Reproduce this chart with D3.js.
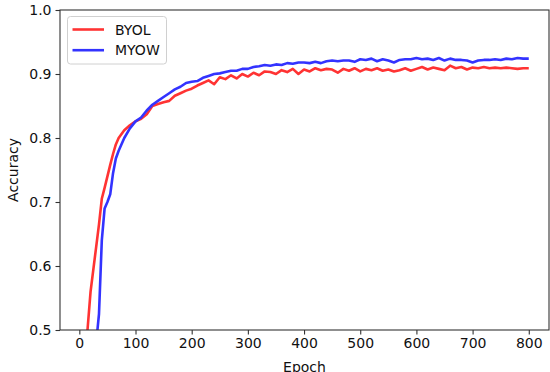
<!DOCTYPE html>
<html lang="en">
<head>
<meta charset="utf-8">
<title>BYOL vs MYOW</title>
<script src="https://d3js.org/d3.v7.js"></script>
<style>
  body { margin: 0; background: #fff; }
  text { font-family: "DejaVu Sans", sans-serif; }
</style>
</head>
<body>
<script>
const w = 550;
const h = 372;
const margin = {top: 10, right: 1, bottom: 42, left: 60};

const epochs = [10, 20, 30, 35, 40, 45, 50, 55, 60, 65, 70, 80, 90, 100, 110, 120, 130, 140, 150, 160,
  170, 180, 190, 200, 210, 220, 230, 240, 250, 260, 270, 280, 290, 300, 310, 320, 330, 340, 350, 360,
  370, 380, 390, 400, 410, 420, 430, 440, 450, 460, 470, 480, 490, 500, 510, 520, 530, 540, 550, 560,
  570, 580, 590, 600, 610, 620, 630, 640, 650, 660, 670, 680, 690, 700, 710, 720, 730, 740, 750, 760,
  770, 780, 790, 800];

const byol = [0.45, 0.56, 0.63, 0.665, 0.705, 0.722, 0.74, 0.758, 0.775, 0.79, 0.80, 0.812, 0.82, 0.826, 0.83, 0.837, 0.85, 0.853, 0.856, 0.858,
  0.866, 0.87, 0.874, 0.877, 0.882, 0.886, 0.89, 0.884, 0.895, 0.892, 0.898, 0.893, 0.90, 0.896, 0.902, 0.898, 0.904, 0.903, 0.90, 0.906,
  0.903, 0.908, 0.90, 0.907, 0.904, 0.909, 0.906, 0.908, 0.907, 0.902, 0.908, 0.905, 0.909, 0.904, 0.908, 0.906, 0.909, 0.905, 0.907, 0.904,
  0.906, 0.909, 0.905, 0.908, 0.911, 0.907, 0.91, 0.908, 0.906, 0.913, 0.909, 0.911, 0.907, 0.91, 0.909, 0.911, 0.909, 0.91, 0.909, 0.91,
  0.909, 0.908, 0.909, 0.909];

const myow = [0.30, 0.38, 0.48, 0.525, 0.64, 0.69, 0.70, 0.712, 0.745, 0.768, 0.78, 0.80, 0.815, 0.826, 0.832, 0.843, 0.852, 0.858, 0.864, 0.87,
  0.876, 0.88, 0.886, 0.888, 0.889, 0.894, 0.897, 0.90, 0.901, 0.903, 0.905, 0.905, 0.908, 0.908, 0.911, 0.912, 0.914, 0.913, 0.915, 0.914,
  0.917, 0.916, 0.918, 0.918, 0.917, 0.919, 0.917, 0.92, 0.921, 0.92, 0.921, 0.921, 0.919, 0.923, 0.922, 0.924, 0.92, 0.923, 0.921, 0.918,
  0.922, 0.923, 0.923, 0.925, 0.923, 0.924, 0.922, 0.925, 0.921, 0.924, 0.922, 0.922, 0.921, 0.918, 0.921, 0.922, 0.922, 0.923, 0.922, 0.924,
  0.923, 0.925, 0.924, 0.924];

const xTicks = [0, 100, 200, 300, 400, 500, 600, 700, 800];
const yTicks = [0.5, 0.6, 0.7, 0.8, 0.9, 1.0];

const series = [
  {name: "BYOL", values: byol, color: "#ff3333"},
  {name: "MYOW", values: myow, color: "#3333ff"}
];

const svg = d3.select("body").append("svg")
  .attr("width", w)
  .attr("height", h);

const xScale = d3.scaleLinear().domain([-34.4, 836]).range([margin.left, w - margin.right]);
const yScale = d3.scaleLinear().domain([0.5, 1.0]).range([h - margin.bottom, margin.top]);

svg.append("clipPath").attr("id", "plot")
  .append("rect")
  .attr("x", margin.left).attr("y", margin.top)
  .attr("width", w - margin.left - margin.right)
  .attr("height", h - margin.top - margin.bottom);

const line = d3.line()
  .x((d, i) => xScale(epochs[i]))
  .y(d => yScale(d));

svg.append("g").attr("clip-path", "url(#plot)")
  .selectAll("path").data(series).enter().append("path")
  .attr("d", d => line(d.values))
  .attr("fill", "none")
  .attr("stroke", d => d.color)
  .attr("stroke-width", 2.6)
  .attr("stroke-linejoin", "round");

const xAxis = d3.axisBottom(xScale).tickValues(xTicks).tickSize(4.5).tickPadding(4);
const yAxis = d3.axisLeft(yScale).tickValues(yTicks).tickFormat(d3.format(".1f")).tickSize(4.5).tickPadding(4);

const gx = svg.append("g")
  .attr("transform", `translate(0, ${h - margin.bottom})`)
  .call(xAxis);
const gy = svg.append("g")
  .attr("transform", `translate(${margin.left}, 0)`)
  .call(yAxis);

[gx, gy].forEach(g => {
  g.select(".domain").remove();
  g.selectAll(".tick line").attr("stroke", "#333").attr("stroke-width", 1.1);
  g.selectAll(".tick text").attr("font-size", 14).attr("fill", "#111");
});

// frame
svg.append("rect")
  .attr("x", margin.left).attr("y", margin.top)
  .attr("width", w - margin.left - margin.right)
  .attr("height", h - margin.top - margin.bottom)
  .attr("fill", "none")
  .attr("stroke", "#333")
  .attr("stroke-width", 1.1);

svg.append("text")
  .attr("x", (margin.left + w - margin.right) / 2)
  .attr("y", 372)
  .attr("text-anchor", "middle")
  .attr("font-size", 14)
  .attr("fill", "#111")
  .text("Epoch");

svg.append("text")
  .attr("transform", `translate(17.5, ${(margin.top + h - margin.bottom) / 2}) rotate(-90)`)
  .attr("text-anchor", "middle")
  .attr("font-size", 14)
  .attr("fill", "#111")
  .text("Accuracy");

// legend
const legend = svg.append("g");
legend.append("rect")
  .attr("x", 67.5).attr("y", 16.5)
  .attr("width", 99).attr("height", 47.5)
  .attr("rx", 3)
  .attr("fill", "#fff").attr("fill-opacity", 0.8)
  .attr("stroke", "#d0d0d0");

const items = legend.selectAll("g.item").data(series).enter().append("g")
  .attr("transform", (d, i) => `translate(0, ${29.5 + i * 20.7})`);
items.append("line")
  .attr("x1", 72.5).attr("x2", 104)
  .attr("stroke", d => d.color)
  .attr("stroke-width", 2.6);
items.append("text")
  .attr("x", 115).attr("y", 5)
  .attr("font-size", 14)
  .attr("fill", "#111")
  .text(d => d.name);
</script>
</body>
</html>
